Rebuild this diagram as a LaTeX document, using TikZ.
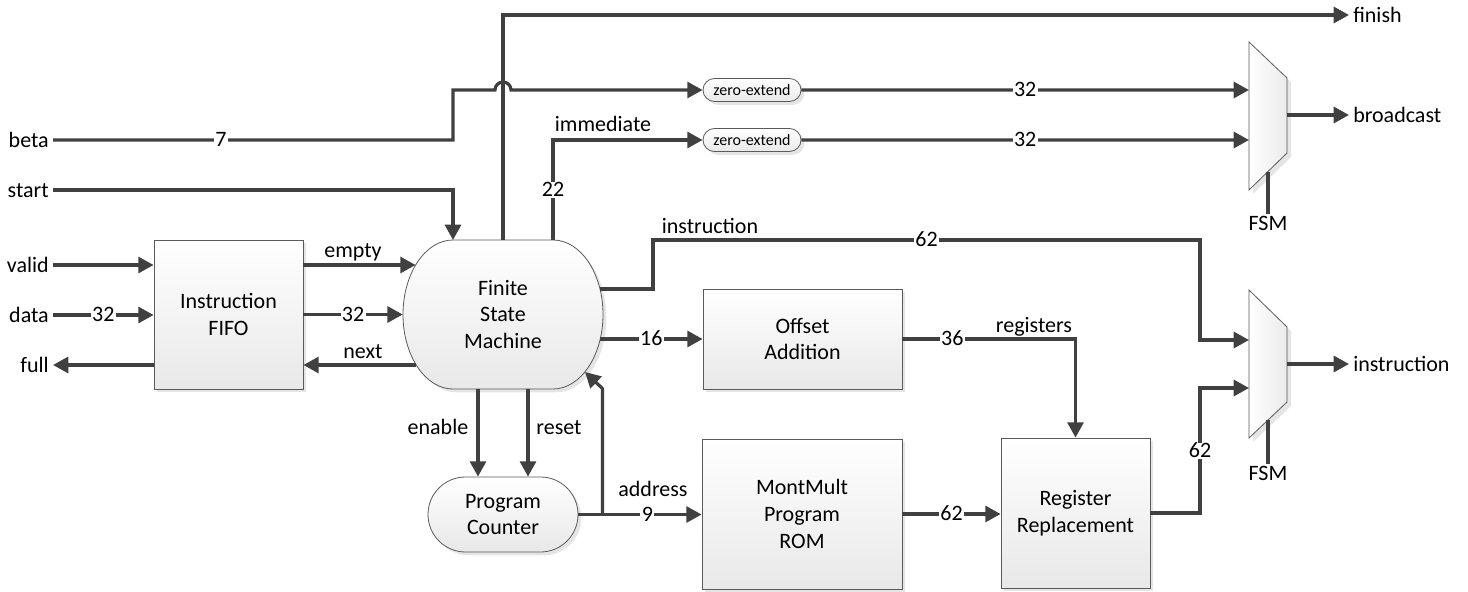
\documentclass[tikz,border=0pt]{standalone}
\usepackage{fontspec}
\setmainfont{Carlito}
\usetikzlibrary{arrows.meta,shapes.misc,shadows,calc}
\definecolor{wirec}{HTML}{404040}
\definecolor{edgec}{HTML}{5A5A5A}

\begin{document}
\begin{tikzpicture}[x=0.75pt,y=-0.75pt,
  txt/.style={font=\fontsize{16.5}{20}\selectfont},
  wire/.style={draw=wirec, line width=2.4pt},
  sig/.style={wire, -{Triangle[length=11.5pt,width=12pt]}},
  num/.style={txt, fill=white, inner xsep=1pt, inner ysep=1pt, text height=10pt, text depth=0pt},
  lbl/.style={txt, inner sep=0pt, anchor=base},
  port/.style={txt, inner sep=3pt, text height=11pt, text depth=0pt},
  shade/.style={draw=edgec, line width=0.6pt, top color=white, bottom color=black!9},
  shadowed/.style={drop shadow={shadow xshift=2.5pt, shadow yshift=-2.5pt, fill=black!10, opacity=1}},
  block/.style={shade, shadowed, txt, align=center, inner sep=0pt},
  pill/.style={block, rounded rectangle},
  tag/.style={pill, font=\fontsize{12}{14}\selectfont, minimum width=98*0.75pt, minimum height=23*0.75pt},
]
\useasboundingbox (0,0) rectangle (1468,592);

% ---------- blocks ----------
\node[block, minimum width=149*0.75pt, minimum height=149*0.75pt] (fifo) at (228.5,314.5) {Instruction\\FIFO};
\node[block, minimum width=199*0.75pt, minimum height=100*0.75pt] (offset) at (802.5,339) {Offset\\Addition};
\node[block, minimum width=200*0.75pt, minimum height=150*0.75pt] (rom) at (802,514) {MontMult\\Program\\ROM};
\node[block, minimum width=149*0.75pt, minimum height=150*0.75pt] (regrep) at (1075.5,513) {Register\\Replacement};
\node[pill, minimum width=150*0.75pt, minimum height=75*0.75pt] (pc) at (503,514.5) {Program\\Counter};
\node[tag] (ze1) at (752,90) {zero-extend};
\node[tag] (ze2) at (752,140) {zero-extend};

% finite state machine: flat top and bottom, elliptic sides
\def\fsmoutline{(453,240) -- (553,240) arc[start angle=-90,end angle=90,x radius=50,y radius=74.5]
  -- (453,389) arc[start angle=90,end angle=270,x radius=50,y radius=74.5] -- cycle}
\fill[black!10, shift={(3.3,3.3)}] \fsmoutline;
\path[shade] \fsmoutline;
\node[txt, align=center, inner sep=0pt, minimum width=200*0.75pt, minimum height=149*0.75pt] (fsm) at (503,314.5) {Finite\\State\\Machine};

% multiplexers
\def\muxone{(1249,42) -- (1287,78) -- (1287,153) -- (1249,190) -- cycle}
\def\muxtwo{(1249,290) -- (1287,327) -- (1287,402) -- (1249,438) -- cycle}
\fill[black!10, shift={(4,4)}] \muxone;
\fill[black!10, shift={(4,4)}] \muxtwo;
\path[draw=edgec, line width=0.6pt, left color=white, right color=black!8] \muxone;
\path[draw=edgec, line width=0.6pt, left color=white, right color=black!8] \muxtwo;

% ports on the state machine and multiplexers
\coordinate (fsmN1) at (453,240);
\coordinate (fsmN3) at (553,240);
\coordinate (fsmW1) at (415.6,265);
\coordinate (fsmW3) at (415.6,365);
\coordinate (fsmE2) at (600,289);
\coordinate (fsmE3) at (600,339);
\coordinate (fsmS1) at (478,389);
\coordinate (fsmS2) at (528,389);
\coordinate (fsmSE) at (585,372);
\coordinate (m1a) at (1249,90);
\coordinate (m1b) at (1249,140);
\coordinate (m1o) at (1287,115);
\coordinate (m1s) at (1268,171.5);
\coordinate (m2a) at (1249,340);
\coordinate (m2b) at (1249,388);
\coordinate (m2o) at (1287,364);
\coordinate (m2s) at (1268,420);

% ---------- external ports ----------
\node[port, anchor=east] (beta) at (53,140) {beta};
\node[port, anchor=east] (start) at (53,190) {start};
\node[port, anchor=east] (valid) at (53,265) {valid};
\node[port, anchor=east] (data) at (53,315) {data};
\node[port, anchor=east] (full) at (53,365) {full};
\node[port, anchor=west] (finish) at (1349,15) {finish};
\node[port, anchor=west] (bcast) at (1349,115) {broadcast};
\node[port, anchor=west] (instr) at (1349,364) {instruction};
\node[txt, inner sep=2pt, text height=10.5pt, text depth=0pt, anchor=north] (sel1) at (1268,214) {FSM};
\node[txt, inner sep=2pt, text height=10.5pt, text depth=0pt, anchor=north] (sel2) at (1268,464) {FSM};

% ---------- connectors ----------
\draw[sig] (valid) -- (valid -| fifo.west);
\draw[sig] (data) -- node[num] (w32a) {32} (data -| fifo.west);
\draw[sig] (fifo.west |- full) -- (full);

\draw[sig] (fifo.east |- fsmW1) -- (fsmW1);
\draw[sig] (fifo.east) -- node[num] (w32b) {32} (fsm.west);
\draw[sig] (fsmW3) -- (fsmW3 -| fifo.east);

\draw[sig] (start) -| (fsmN1);

\coordinate (bturn) at (453,140);
\coordinate (hopL) at (495,90);
\draw[sig] (beta) -- node[num, pos=0.42] (w7) {7} (bturn) |- (hopL)
  arc[start angle=180, end angle=360, radius=8] -- (ze1);

\draw[sig] (fsm.north) |- (finish);
\draw[sig] (fsmN3) |- node[num, pos=0.25] (w22) {22} (ze2);

\draw[sig] (ze1) -- node[num] (w32c) {32} (m1a);
\draw[sig] (ze2) -- node[num] (w32d) {32} (m1b);
\draw[sig] (m1o) -- (bcast);
\draw[wire] (m1s) -- (sel1);

\coordinate (ibend) at (653,289);
\coordinate (itop) at (1200,240);
\draw[sig] (fsmE2) -- (ibend) |- node[num, pos=0.75] (w62a) {62} (itop) |- (m2a);

\draw[sig] (fsmE3) -- node[num] (w16) {16} (fsmE3 -| offset.west);
\draw[sig] (offset) -| node[num, pos=0.144] (w36) {36} (regrep);

\draw[sig] (fsmS1) -- (fsmS1 |- pc.north);
\draw[sig] (fsmS2) -- (fsmS2 |- pc.north);

\draw[sig] (pc.east) -- node[num, pos=0.56] (w9) {9} (pc.east -| rom.west);
\coordinate (addrsplit) at ($(pc.east)+(24,0)$);
\draw[sig] (addrsplit) -- ++(0,-126) -- (fsmSE);

\draw[sig] (rom.east) -- node[num] (w62b) {62} (rom.east -| regrep.west);
\coordinate (rup) at (1200,388);
\draw[sig] (regrep.east) -| node[num, pos=0.75] (w62c) {62} (rup) -- (m2b);
\draw[sig] (m2o) -- (instr);
\draw[wire] (m2s) -- (sel2);

% ---------- wire names ----------
\node[lbl] (lempty) at (353,257) {empty};
\node[lbl] (lnext) at (363,358) {next};
\node[lbl] (limm) at (603,132) {immediate};
\node[lbl] (linstr) at (710,233) {instruction};
\node[lbl] (lregs) at (1034,332) {registers};
\node[lbl] (lenable) at (438,434) {enable};
\node[lbl] (lreset) at (559,434) {reset};
\node[lbl] (laddr) at (653,496) {address};
\end{tikzpicture}
\end{document}
